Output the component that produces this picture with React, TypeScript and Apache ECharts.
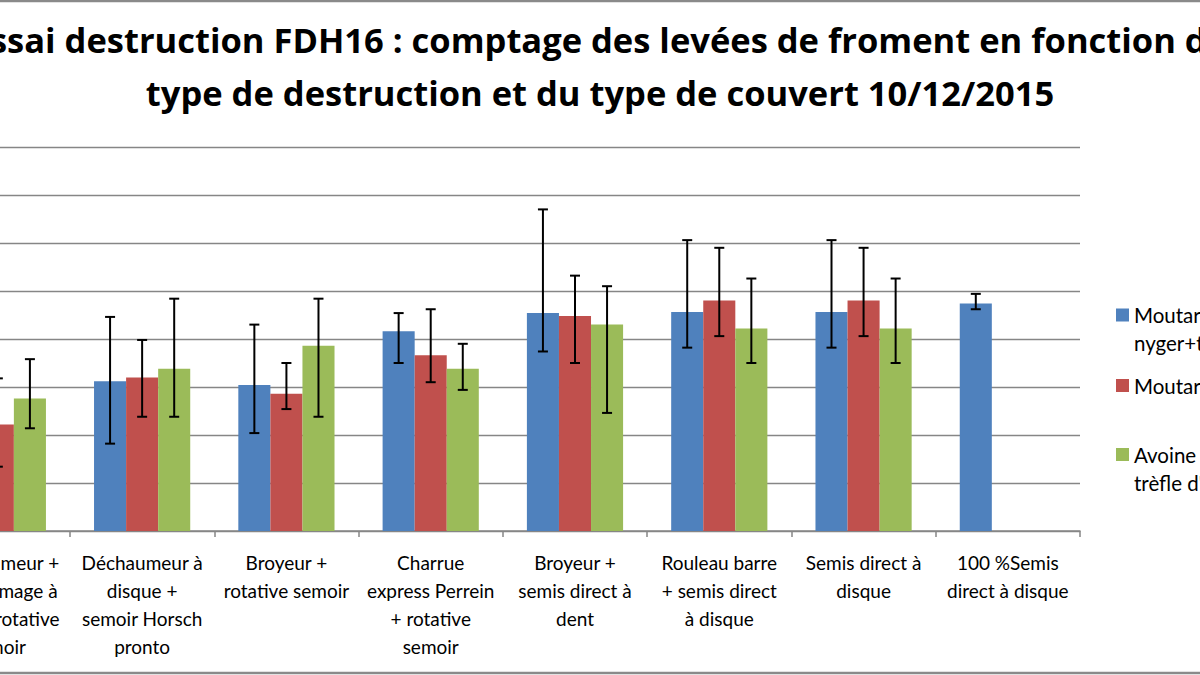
import React, { useEffect, useRef } from "react";
import * as echarts from "echarts";

const titleText =
  "Essai destruction FDH16 : comptage des levées de froment en fonction du\ntype de destruction et du type de couvert 10/12/2015";

const categories = [
  "Déchaumeur +\ndéchaumage à\ndent + rotative\nsemoir",
  "Déchaumeur à\ndisque +\nsemoir Horsch\npronto",
  "Broyeur +\nrotative semoir",
  "Charrue\nexpress Perrein\n+ rotative\nsemoir",
  "Broyeur +\nsemis direct à\ndent",
  "Rouleau barre\n+ semis direct\nà disque",
  "Semis direct à\ndisque",
  "100 %Semis\ndirect à disque",
];

const seriesNames = [
  "Moutarde + phacélie +\nnyger+trèfle",
  "Moutarde",
  "Avoine + vesce +\ntrèfle d'Alexandrie",
];

const seriesColors = ["#4F81BD", "#C0504D", "#9BBB59"];

// mean values
const blueValues = [125, 156, 152, 208, 227, 228, 228, 237];
const redValues = [111, 160, 143, 183, 224, 240, 240, null];
const greenValues = [138, 169, 193, 169, 215, 211, 211, null];

// error bar bounds (low / high)
const blueErrLow = [85, 91, 102, 175, 187, 191, 191, 231];
const blueErrHigh = [165, 223, 215, 227, 335, 303, 303, 247];
const redErrLow = [67, 119, 127, 155, 175, 203, 203, null];
const redErrHigh = [159, 199, 175, 231, 266, 295, 295, null];
const greenErrLow = [107, 119, 119, 147, 123, 175, 175, null];
const greenErrHigh = [179, 242, 242, 195, 255, 263, 263, null];

const yMin = 0;
const yMax = 400;
const yInterval = 50;

export default function App() {
  const ref = useRef<HTMLDivElement>(null);

  useEffect(() => {
    if (!ref.current) return;
    const chart = echarts.init(ref.current, null, { renderer: "svg" });

    const values = [blueValues, redValues, greenValues];
    const lows = [blueErrLow, redErrLow, greenErrLow];
    const highs = [blueErrHigh, redErrHigh, greenErrHigh];
    const gapRatio = 1 / 3;

    const barSeries = seriesNames.map((name, s) => ({
      type: "bar",
      name,
      data: values[s],
      barCategoryGap: "33.33%",
      barGap: "0%",
      itemStyle: { color: seriesColors[s] },
      z: 2,
    }));

    const errSeries = seriesNames.map((name, s) => ({
      type: "custom",
      name: name + "_err",
      z: 5,
      silent: true,
      data: categories
        .map((_, i) => [i, lows[s][i], highs[s][i]])
        .filter((d) => d[1] != null && d[2] != null),
      encode: { x: 0, y: [1, 2] },
      renderItem: (params: any, api: any) => {
        const idx = api.value(0);
        const lo = api.coord([idx, api.value(1)]);
        const hi = api.coord([idx, api.value(2)]);
        const bw = (api.size([1, 0])[0] * (1 - gapRatio)) / 3;
        const x = lo[0] + (s - 1) * bw;
        const cap = 5;
        const st = { stroke: "#000", lineWidth: 2 };
        return {
          type: "group",
          children: [
            { type: "line", shape: { x1: x, y1: hi[1], x2: x, y2: lo[1] }, style: st },
            { type: "line", shape: { x1: x - cap, y1: hi[1], x2: x + cap, y2: hi[1] }, style: st },
            { type: "line", shape: { x1: x - cap, y1: lo[1], x2: x + cap, y2: lo[1] }, style: st },
          ],
        };
      },
    }));

    const legendTops = [273, 371.5, 412.5];
    const legends = seriesNames.map((name, s) => ({
      data: [name],
      orient: "vertical",
      left: 1266,
      top: legendTops[s],
      padding: 0,
      itemWidth: 13,
      itemHeight: 13,
      icon: "rect",
      selectedMode: false,
      formatter: (n: string) => (n.includes("\n") ? "\n" + n : n),
      textStyle: {
        fontFamily: "Lato",
        fontSize: 20.5,
        lineHeight: 28,
        color: "#000",
      },
    }));

    const option: any = {
      animation: false,
      backgroundColor: "#fff",
      title: {
        text: titleText,
        left: "center",
        top: 8,
        textStyle: {
          fontFamily: "Open Sans",
          fontWeight: "bold",
          fontSize: 34.5,
          lineHeight: 53,
          color: "#000",
        },
      },
      legend: legends,
      grid: { left: 75.7, right: 270, top: 147, bottom: 144, containLabel: false },
      xAxis: {
        type: "category",
        data: categories,
        axisLine: { lineStyle: { color: "#868686", width: 1.5 } },
        axisTick: { show: true, length: 6, lineStyle: { color: "#868686", width: 1.5 } },
        axisLabel: {
          interval: 0,
          margin: 17,
          fontFamily: "Lato",
          fontSize: 19,
          lineHeight: 28,
          color: "#000",
          align: "center",
        },
      },
      yAxis: {
        type: "value",
        min: yMin,
        max: yMax,
        interval: yInterval,
        axisLabel: { show: false },
        axisLine: { show: false },
        axisTick: { show: false },
        splitLine: { lineStyle: { color: "#868686", width: 1.3 } },
      },
      graphic: [
        {
          type: "rect",
          shape: { x: -10, y: 1, width: 1520, height: 672 },
          style: { fill: "none", stroke: "#8a8a8a", lineWidth: 2.5 },
          silent: true,
          z: 100,
        },
      ],
      series: [...barSeries, ...errSeries],
    };

    chart.setOption(option);
    return () => chart.dispose();
  }, []);

  return (
    <div
      style={{
        position: "fixed",
        left: 0,
        top: 0,
        width: 1200,
        height: 675,
        overflow: "hidden",
        background: "#fff",
      }}
    >
      <div
        ref={ref}
        style={{ position: "absolute", left: -150, top: 0, width: 1500, height: 675 }}
      />
    </div>
  );
}
